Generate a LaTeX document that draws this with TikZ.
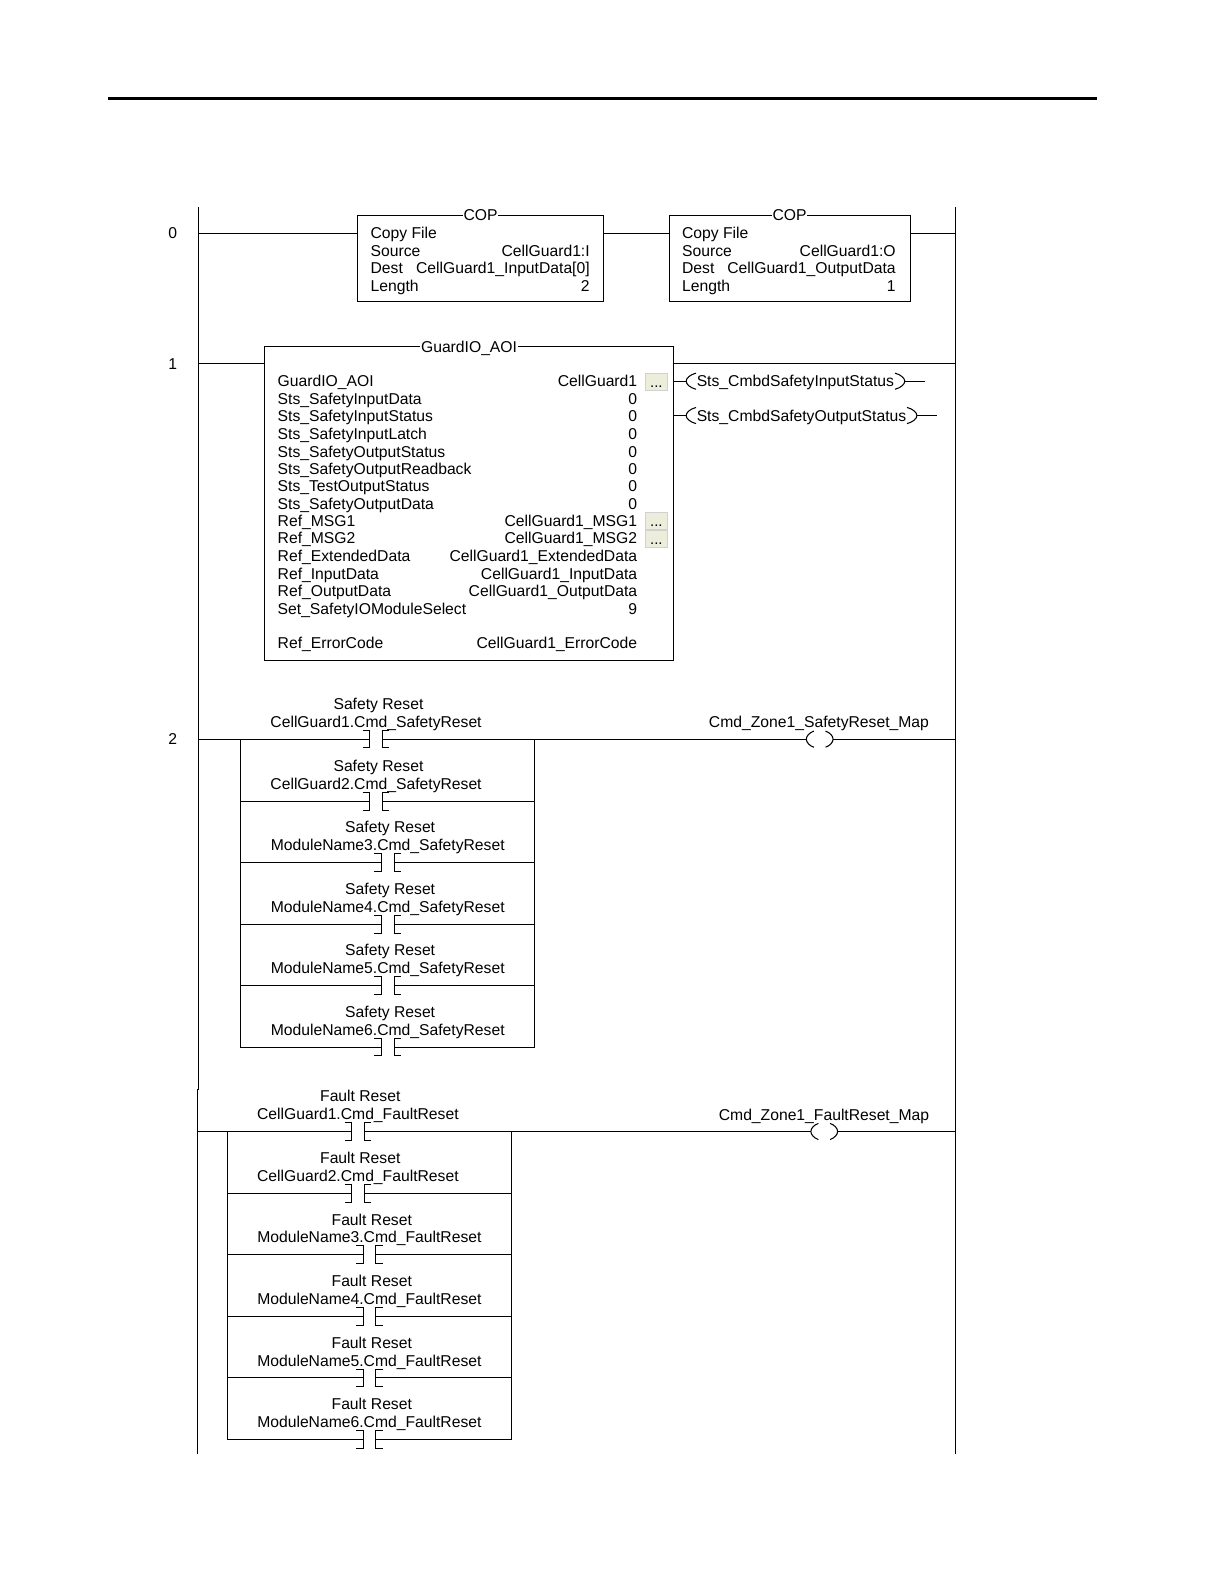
\documentclass[tikz,border=0pt]{standalone}
\usepackage{fontspec}
\setmainfont{Liberation Sans}
\definecolor{btnfill}{HTML}{EDEDDC}
\begin{document}
\begin{tikzpicture}[x=1.0098pt,y=-1.0098pt,line width=1.05pt]
	\tikzset{
		lbl/.style={inner sep=0,outer sep=0,font=\fontsize{15.7}{18}\selectfont,text height=13pt,text depth=1.6pt},
		lft/.style={lbl,anchor=west},
		rgt/.style={lbl,anchor=east},
		mid/.style={lbl},
		title/.style={lbl,fill=white,inner xsep=0.8pt},
		block/.style={draw,inner sep=0,outer sep=0},
		btn/.style={fill=btnfill,draw=black!18,line width=0.8pt,inner sep=0,outer sep=0,minimum width=22.2pt,minimum height=17.6pt,font=\fontsize{15}{15}\selectfont,text height=11pt,text depth=0pt},
	}
	\tikzset{
		pics/contact/.style n args={2}{code={
			\draw (-13.2,-8.7) -- (-6.2,-8.7) -- (-6.2,8.7) -- (-13.2,8.7);
			\draw (13,-8.7) -- (6.2,-8.7) -- (6.2,8.7) -- (13,8.7);
			\coordinate (-l) at (-6.2,0);
			\coordinate (-r) at (6.2,0);
			\node[mid] (-top) at (2.4,-35) {#1};
			\node[mid] (-tag) at (0,-17.3) {#2};
		},
		}
	}
	\tikzset{
		coilcap/.pic={
			\draw (7.5,-8) .. controls (3,-6.5) and (0,-3) .. (0,0) .. controls (0,3) and (3,6.5) .. (7.5,8);
			\coordinate (-o) at (0,0);
		},
	}

	\path[use as bounding box,fill=white] (0,0) rectangle (1212.16,1568.64);
	\draw[line width=3pt] (107,97.5) -- (1086,97.5);

	%RAILS
	\coordinate (top) at (196.5,205);
	\coordinate (split) at (196.5,1079);
	\coordinate (splitb) at (195.5,1079);
	\coordinate (bot) at (195.5,1439.5);
	\coordinate (rtop) at (946,205);
	\coordinate (rbot) at (946,1439.5);
	\draw (top) -- (split) -- (splitb) -- (bot);
	\draw (rtop) -- (rbot);

	\node[mid] (n0) at (171,231) {0};
	\node[mid] (n1) at (171,360) {1};
	\node[mid] (n2) at (171,732) {2};

	%rung 0
	\coordinate (rl0) at (196.5,231);
	\coordinate (rr0) at (946,231);
	\node[block,minimum width=246.4pt,minimum height=86.8pt] (cop1) at (476,256) {};
	\node[block,minimum width=240.8pt,minimum height=86.8pt] (cop2) at (782,256) {};
	\draw (rl0) -- (rl0 -| cop1.west);
	\draw (rl0 -| cop1.east) -- (rl0 -| cop2.west);
	\draw (rl0 -| cop2.east) -- (rr0);
	\node[title] (cop1t) at (cop1.north) {COP};
	\node[title] (cop2t) at (cop2.north) {COP};
	\node[lft] (a1) at (367,231) {Copy File};
	\node[lft] (a2) at (367,248) {Source};
	\node[rgt] (a3) at (584,248) {CellGuard1:I};
	\node[lft] (a4) at (367,265.5) {Dest};
	\node[rgt] (a5) at (584,265.5) {CellGuard1\_InputData[0]};
	\node[lft] (a6) at (367,283) {Length};
	\node[rgt] (a7) at (584,283) {2};
	\node[lft] (b1) at (675.5,231) {Copy File};
	\node[lft] (b2) at (675.5,248) {Source};
	\node[rgt] (b3) at (887,248) {CellGuard1:O};
	\node[lft] (b4) at (675.5,265.5) {Dest};
	\node[rgt] (b5) at (887,265.5) {CellGuard1\_OutputData};
	\node[lft] (b6) at (675.5,283) {Length};
	\node[rgt] (b7) at (887,283) {1};

	%rung 1
	\coordinate (rl1) at (196.5,359.5);
	\coordinate (rr1) at (946,359.5);
	\node[block,minimum width=409pt,minimum height=314pt] (aoi) at (464.5,498.5) {};
	\draw (rl1) -- (rl1 -| aoi.west);
	\draw (rl1 -| aoi.east) -- (rr1);
	\node[title] (aoit) at (aoi.north) {GuardIO\_AOI};
	\node[lft] (p1) at (275,377.5) {GuardIO\_AOI};
	\node[rgt] (v1) at (631,377.5) {CellGuard1};
	\node[lft] (p2) at (275,395) {Sts\_SafetyInputData};
	\node[rgt] (v2) at (631,395) {0};
	\node[lft] (p3) at (275,412) {Sts\_SafetyInputStatus};
	\node[rgt] (v3) at (631,412) {0};
	\node[lft] (p4) at (275,429.5) {Sts\_SafetyInputLatch};
	\node[rgt] (v4) at (631,429.5) {0};
	\node[lft] (p5) at (275,447) {Sts\_SafetyOutputStatus};
	\node[rgt] (v5) at (631,447) {0};
	\node[lft] (p6) at (275,464) {Sts\_SafetyOutputReadback};
	\node[rgt] (v6) at (631,464) {0};
	\node[lft] (p7) at (275,481) {Sts\_TestOutputStatus};
	\node[rgt] (v7) at (631,481) {0};
	\node[lft] (p8) at (275,498.5) {Sts\_SafetyOutputData};
	\node[rgt] (v8) at (631,498.5) {0};
	\node[lft] (p9) at (275,516) {Ref\_MSG1};
	\node[rgt] (v9) at (631,516) {CellGuard1\_MSG1};
	\node[lft] (p10) at (275,533) {Ref\_MSG2};
	\node[rgt] (v10) at (631,533) {CellGuard1\_MSG2};
	\node[lft] (p11) at (275,550.5) {Ref\_ExtendedData};
	\node[rgt] (v11) at (631,550.5) {CellGuard1\_ExtendedData};
	\node[lft] (p12) at (275,568) {Ref\_InputData};
	\node[rgt] (v12) at (631,568) {CellGuard1\_InputData};
	\node[lft] (p13) at (275,585) {Ref\_OutputData};
	\node[rgt] (v13) at (631,585) {CellGuard1\_OutputData};
	\node[lft] (p14) at (275,602.5) {Set\_SafetyIOModuleSelect};
	\node[rgt] (v14) at (631,602.5) {9};
	\node[lft] (p15) at (275,637) {Ref\_ErrorCode};
	\node[rgt] (v15) at (631,637) {CellGuard1\_ErrorCode};
	\node[btn] (btn1) at (650,378) {...};
	\node[btn] (btn2) at (650,516) {...};
	\node[btn] (btn3) at (650,533.5) {...};
	%output coils
	\node[lft] (st1) at (690,377.5) {Sts\_CmbdSafetyInputStatus};
	\path (679.5,377.5) pic[xscale=1.3] (st1a) {coilcap};
	\path (896,377.5) pic[xscale=-1.3] (st1b) {coilcap};
	\coordinate (st1e) at (916,377.5);
	\draw (st1a-o -| aoi.east) -- (st1a-o);
	\draw (st1b-o) -- (st1e);
	\node[lft] (st2) at (690,411.5) {Sts\_CmbdSafetyOutputStatus};
	\path (679.5,411.5) pic[xscale=1.3] (st2a) {coilcap};
	\path (908,411.5) pic[xscale=-1.3] (st2b) {coilcap};
	\coordinate (st2e) at (928,411.5);
	\draw (st2a-o -| aoi.east) -- (st2a-o);
	\draw (st2b-o) -- (st2e);

	%rung 2
	\coordinate (rl2) at (196.5,732);
	\coordinate (rr2) at (946,732);
	\coordinate (bl2) at (238,732);
	\coordinate (br2) at (529,732);
	\path (372.4,732) pic (sa) {contact={Safety Reset}{CellGuard1.Cmd\_SafetyReset}};
	\path (372.4,793.5) pic (sb) {contact={Safety Reset}{CellGuard2.Cmd\_SafetyReset}};
	\path (384,854) pic (sc) {contact={Safety Reset}{ModuleName3.Cmd\_SafetyReset}};
	\path (384,915.5) pic (sd) {contact={Safety Reset}{ModuleName4.Cmd\_SafetyReset}};
	\path (384,976) pic (se) {contact={Safety Reset}{ModuleName5.Cmd\_SafetyReset}};
	\path (384,1037) pic (sf) {contact={Safety Reset}{ModuleName6.Cmd\_SafetyReset}};
	\path (798.5,732) pic (sca) {coilcap};
	\path (825,732) pic[xscale=-1] (scb) {coilcap};
	\node[mid] (scn) at (811,715) {Cmd\_Zone1\_SafetyReset\_Map};
	\draw (rl2) -- (sa-l);
	\draw (sa-r) -- (sca-o);
	\draw (scb-o) -- (rr2);
	\draw (bl2) -- (bl2 |- sf-l) -- (sf-l);
	\draw (sf-r) -- (br2 |- sf-r) -- (br2);
	\draw (bl2 |- sb-l) -- (sb-l) (sb-r) -- (br2 |- sb-r);
	\draw (bl2 |- sc-l) -- (sc-l) (sc-r) -- (br2 |- sc-r);
	\draw (bl2 |- sd-l) -- (sd-l) (sd-r) -- (br2 |- sd-r);
	\draw (bl2 |- se-l) -- (se-l) (se-r) -- (br2 |- se-r);

	%rung 3
	\coordinate (rl3) at (195.5,1120.5);
	\coordinate (rr3) at (946,1120.5);
	\coordinate (bl3) at (225.5,1120.5);
	\coordinate (br3) at (506.5,1120.5);
	\path (354.4,1120.5) pic (fa) {contact={Fault Reset}{CellGuard1.Cmd\_FaultReset}};
	\path (354.4,1182) pic (fb) {contact={Fault Reset}{CellGuard2.Cmd\_FaultReset}};
	\path (365.8,1242.5) pic (fc) {contact={Fault Reset}{ModuleName3.Cmd\_FaultReset}};
	\path (365.8,1303.5) pic (fd) {contact={Fault Reset}{ModuleName4.Cmd\_FaultReset}};
	\path (365.8,1364.5) pic (fe) {contact={Fault Reset}{ModuleName5.Cmd\_FaultReset}};
	\path (365.8,1425.5) pic (ff) {contact={Fault Reset}{ModuleName6.Cmd\_FaultReset}};
	\path (803,1120.5) pic (fca) {coilcap};
	\path (829.5,1120.5) pic[xscale=-1] (fcb) {coilcap};
	\node[mid] (fcn) at (816,1103.5) {Cmd\_Zone1\_FaultReset\_Map};
	\draw (rl3) -- (fa-l);
	\draw (fa-r) -- (fca-o);
	\draw (fcb-o) -- (rr3);
	\draw (bl3) -- (bl3 |- ff-l) -- (ff-l);
	\draw (ff-r) -- (br3 |- ff-r) -- (br3);
	\draw (bl3 |- fb-l) -- (fb-l) (fb-r) -- (br3 |- fb-r);
	\draw (bl3 |- fc-l) -- (fc-l) (fc-r) -- (br3 |- fc-r);
	\draw (bl3 |- fd-l) -- (fd-l) (fd-r) -- (br3 |- fd-r);
	\draw (bl3 |- fe-l) -- (fe-l) (fe-r) -- (br3 |- fe-r);
\end{tikzpicture}
\end{document}
